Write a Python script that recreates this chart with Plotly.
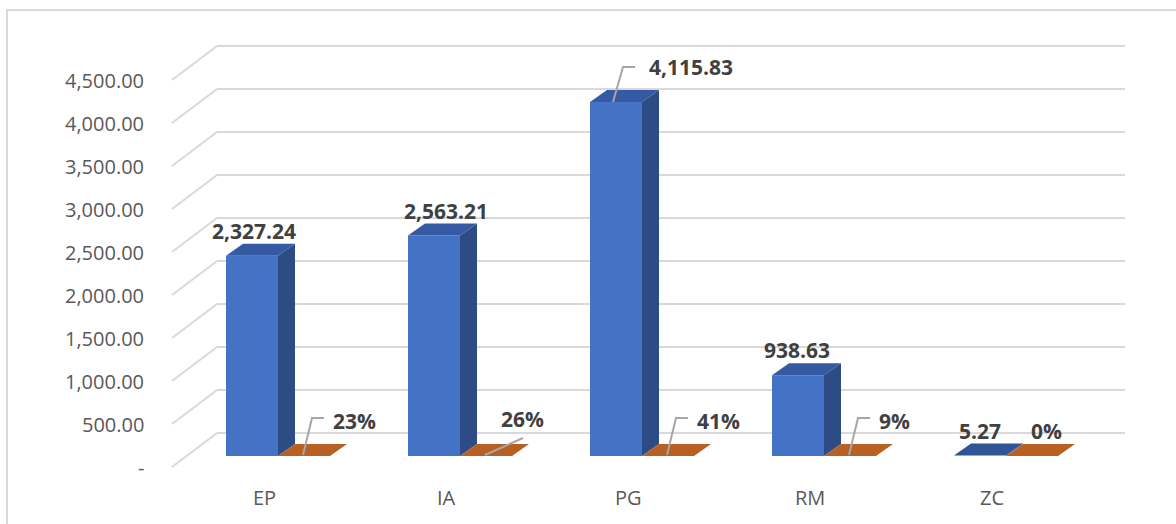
import plotly.graph_objects as go

# ---------------- data ----------------
categories = ["EP", "IA", "PG", "RM", "ZC"]
amounts = [2327.24, 2563.21, 4115.83, 938.63, 5.27]
shares = [0.23, 0.26, 0.41, 0.09, 0.00]
amount_labels = ["2,327.24", "2,563.21", "4,115.83", "938.63", "5.27"]
share_labels = ["23%", "26%", "41%", "9%", "0%"]
tick_values = [0, 500, 1000, 1500, 2000, 2500, 3000, 3500, 4000, 4500]
tick_labels = ["-", "500.00", "1,000.00", "1,500.00", "2,000.00", "2,500.00",
               "3,000.00", "3,500.00", "4,000.00", "4,500.00"]

# ---------------- geometry (pixel scale of the pseudo-3D projection) ----------------
W, H = 1176, 524
X0PX, CATPX = 278.0, 182.0      # pixel of category 0 centre, pixels per category
Y0PX, PXU = 456.0, 0.086        # pixel of value 0 on bar plane, pixels per value unit


def dx(px):  # pixel width -> category units
    return px / CATPX


def dy(px):  # pixel height (upwards) -> value units
    return px / PXU


xr = [(0 - X0PX) / CATPX, (W - X0PX) / CATPX]
yr = [(Y0PX - H) / PXU, Y0PX / PXU]

BAR_W = dx(52)
DEPTH_X, DEPTH_Y = dx(17), dy(12)
WALL_X, WALL_Y = dx(-61), dy(23)       # back wall left corner relative to bar plane
FRONT_X, FRONT_Y = dx(-106), dy(-11)   # front end of side-wall gridlines
WALL_RIGHT = dx(1125 - X0PX)

BLUE, BLUE_SIDE, BLUE_TOP = "#4472C4", "#2D4B85", "#3559A3"
ORANGE, ORANGE_SIDE, ORANGE_TOP = "#C55A11", "#8F4210", "#B86024"
GRID = "#D9D9D9"
LEADER = "#A6A6A6"
TXT = "#404040"
FONT = "Open Sans"

fig = go.Figure()
shapes = []
ann = []

# back wall and side wall gridlines + tick labels
for t, lab in zip(tick_values, tick_labels):
    shapes.append(dict(type="line", layer="below", xref="x", yref="y",
                       x0=WALL_X, y0=t + WALL_Y, x1=WALL_RIGHT, y1=t + WALL_Y,
                       line=dict(color=GRID, width=2)))
    shapes.append(dict(type="line", layer="below", xref="x", yref="y",
                       x0=FRONT_X, y0=t + FRONT_Y, x1=WALL_X, y1=t + WALL_Y,
                       line=dict(color=GRID, width=2)))
    ann.append(dict(x=FRONT_X, y=t + FRONT_Y, xref="x", yref="y", text=lab,
                    showarrow=False, xanchor="right", yanchor="middle", xshift=-26,
                    font=dict(family=FONT, size=20, color="#595959")))


def poly(xs, ys, color):
    fig.add_trace(go.Scatter(x=xs + [xs[0]], y=ys + [ys[0]], mode="lines",
                             fill="toself", fillcolor=color, line=dict(width=0, color=color),
                             hoverinfo="skip", showlegend=False))


def box(xc, v, front, side, top):
    x0, x1 = xc - BAR_W / 2, xc + BAR_W / 2
    # side face
    poly([x1, x1, x1 + DEPTH_X, x1 + DEPTH_X], [0, v, v + DEPTH_Y, DEPTH_Y], side)
    # front face
    poly([x0, x1, x1, x0], [0, 0, v, v], front)
    # top face
    poly([x0, x1, x1 + DEPTH_X, x0 + DEPTH_X], [v, v, v + DEPTH_Y, v + DEPTH_Y], top)


for i, (a, s) in enumerate(zip(amounts, shares)):
    box(i - BAR_W / 2, a, BLUE, BLUE_SIDE, BLUE_TOP if a > 50 else "#2F5597")
    box(i + BAR_W / 2, s, ORANGE, ORANGE_SIDE, ORANGE_TOP)

# category labels
for i, c in enumerate(categories):
    ann.append(dict(x=i - dx(14), y=dy(456 - 497), xref="x", yref="y", text=c,
                    showarrow=False, xanchor="center", yanchor="middle",
                    font=dict(family=FONT, size=20, color="#595959")))

LBL = dict(family=FONT, size=21, color=TXT)


def leader(pts):
    fig.add_trace(go.Scatter(x=[p[0] for p in pts], y=[p[1] for p in pts], mode="lines",
                             line=dict(color=LEADER, width=2), hoverinfo="skip",
                             showlegend=False))


# amount labels
amount_xshift = [2, 12, None, -1, 0]
for i, (a, lab) in enumerate(zip(amounts, amount_labels)):
    xc = i - BAR_W / 2
    if amount_xshift[i] is None:
        # leader line label (PG)
        bx, by = xc - dx(3), a
        p1 = (bx + dx(10), a + dy(35))
        p2 = (p1[0] + dx(12), p1[1])
        leader([(bx, by), p1, p2])
        ann.append(dict(x=p2[0], y=p2[1], xref="x", yref="y", text="<b>%s</b>" % lab,
                        showarrow=False, xanchor="left", yanchor="middle", xshift=12,
                        font=LBL))
    else:
        ann.append(dict(x=xc, y=a + DEPTH_Y, xref="x", yref="y", text="<b>%s</b>" % lab,
                        showarrow=False, xanchor="center", yanchor="bottom",
                        xshift=amount_xshift[i], yshift=-3, font=LBL))

# share labels
for i, (s, lab) in enumerate(zip(shares, share_labels)):
    xc = i + BAR_W / 2
    if i == 4:
        ann.append(dict(x=xc + DEPTH_X, y=s + DEPTH_Y, xref="x", yref="y",
                        text="<b>%s</b>" % lab, showarrow=False, xanchor="center",
                        yanchor="bottom", xshift=-3, yshift=-3, font=LBL))
        continue
    bx, by = xc - dx(1), s + dy(1)
    if i == 1:
        p_end = (bx + dx(38), by + dy(17))
        leader([(bx, by), p_end])
        ann.append(dict(x=p_end[0], y=p_end[1], xref="x", yref="y", text="<b>%s</b>" % lab,
                        showarrow=False, xanchor="center", yanchor="bottom", xshift=-1,
                        yshift=3, font=LBL))
    else:
        p1 = (bx + dx(9), by + dy(37))
        p2 = (p1[0] + dx(12), p1[1])
        leader([(bx, by), p1, p2])
        ann.append(dict(x=p2[0], y=p2[1], xref="x", yref="y", text="<b>%s</b>" % lab,
                        showarrow=False, xanchor="left", yanchor="middle", xshift=7,
                        yshift=-3, font=LBL))

# chart border
shapes.append(dict(type="rect", xref="paper", yref="paper", x0=7 / W, x1=1.02,
                   y0=-0.02, y1=1 - 10 / H, line=dict(color=GRID, width=2),
                   fillcolor="rgba(0,0,0,0)", layer="below"))

fig.update_layout(
    width=W, height=H,
    margin=dict(l=0, r=0, t=0, b=0),
    paper_bgcolor="white", plot_bgcolor="white",
    xaxis=dict(range=xr, visible=False, fixedrange=True),
    yaxis=dict(range=yr, visible=False, fixedrange=True),
    shapes=shapes, annotations=ann,
    showlegend=False,
)

fig.write_html("out.html")
